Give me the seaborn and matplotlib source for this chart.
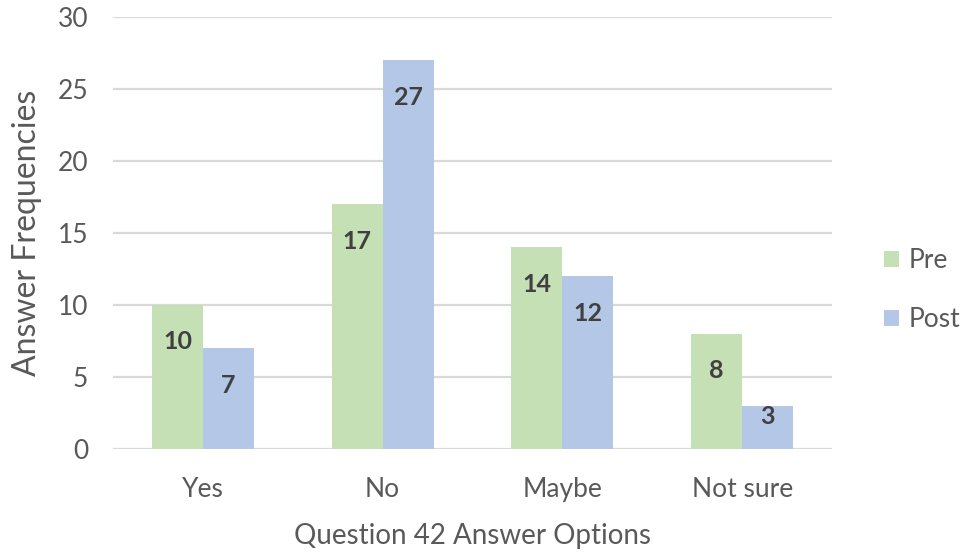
import matplotlib
matplotlib.use("Agg")
import matplotlib.pyplot as plt
import seaborn as sns
import pandas as pd
from matplotlib.patches import Patch

categories = ["Yes", "No", "Maybe", "Not sure"]
pre_values = [10, 17, 14, 8]
post_values = [7, 27, 12, 3]
series_names = ["Pre", "Post"]
y_ticks = [0, 5, 10, 15, 20, 25, 30]

colors = {"Pre": "#C5E0B4", "Post": "#B4C7E7"}
text_color = "#595959"

df = pd.DataFrame({
    "Option": categories * 2,
    "Series": [series_names[0]] * len(categories) + [series_names[1]] * len(categories),
    "Count": pre_values + post_values,
})

sns.set_theme(style="white")
plt.rcParams["font.family"] = ["Lato", "DejaVu Sans"]

fig = plt.figure(figsize=(9.67, 5.55), dpi=100)
ax = fig.add_axes([0.1169, 0.191, 0.7435, 0.7784])

sns.barplot(data=df, x="Option", y="Count", hue="Series", palette=colors,
            order=categories, hue_order=series_names, width=0.567,
            saturation=1, errorbar=None, ax=ax, legend=False,
            linewidth=0, zorder=3)

ax.set_xlim(-0.5, 3.5)
ax.set_ylim(0, 30)
ax.set_yticks(y_ticks)
ax.yaxis.grid(True, color="#D9D9D9", linewidth=1.6, zorder=0)
ax.set_axisbelow(True)
for s in ax.spines.values():
    s.set_visible(False)
ax.tick_params(axis="both", length=0, labelsize=19, colors=text_color)
ax.tick_params(axis="y", pad=18)
ax.tick_params(axis="x", pad=20)

ax.set_ylabel("Answer Frequencies", fontsize=23, color=text_color, labelpad=11)
ax.set_xlabel("Question 42 Answer Options", fontsize=20, color=text_color, labelpad=15)

# value labels sit inside the top of each bar; short bars keep them lower in the bar
px_per_unit = ax.bbox.height / 30.0
for container in ax.containers:
    for bar in container:
        h = bar.get_height()
        bar_px = h * px_per_unit
        offset_px = min(37.0, bar_px - 32.0)
        ax.annotate(f"{h:g}", (bar.get_x() + bar.get_width() / 2, h),
                    xytext=(0, -offset_px * 72 / 100), textcoords="offset points",
                    ha="center", va="center", fontsize=18, fontweight="bold",
                    color="#404040", zorder=5)

handles = [Patch(facecolor=colors[n], edgecolor="none") for n in series_names]
fig.legend(handles, series_names, loc="center left", bbox_to_anchor=(0.89, 0.477),
           frameon=False, fontsize=19, labelcolor=text_color,
           handlelength=0.55, handleheight=0.55, handletextpad=0.35,
           labelspacing=1.3)

fig.savefig("out.png", dpi=100)
